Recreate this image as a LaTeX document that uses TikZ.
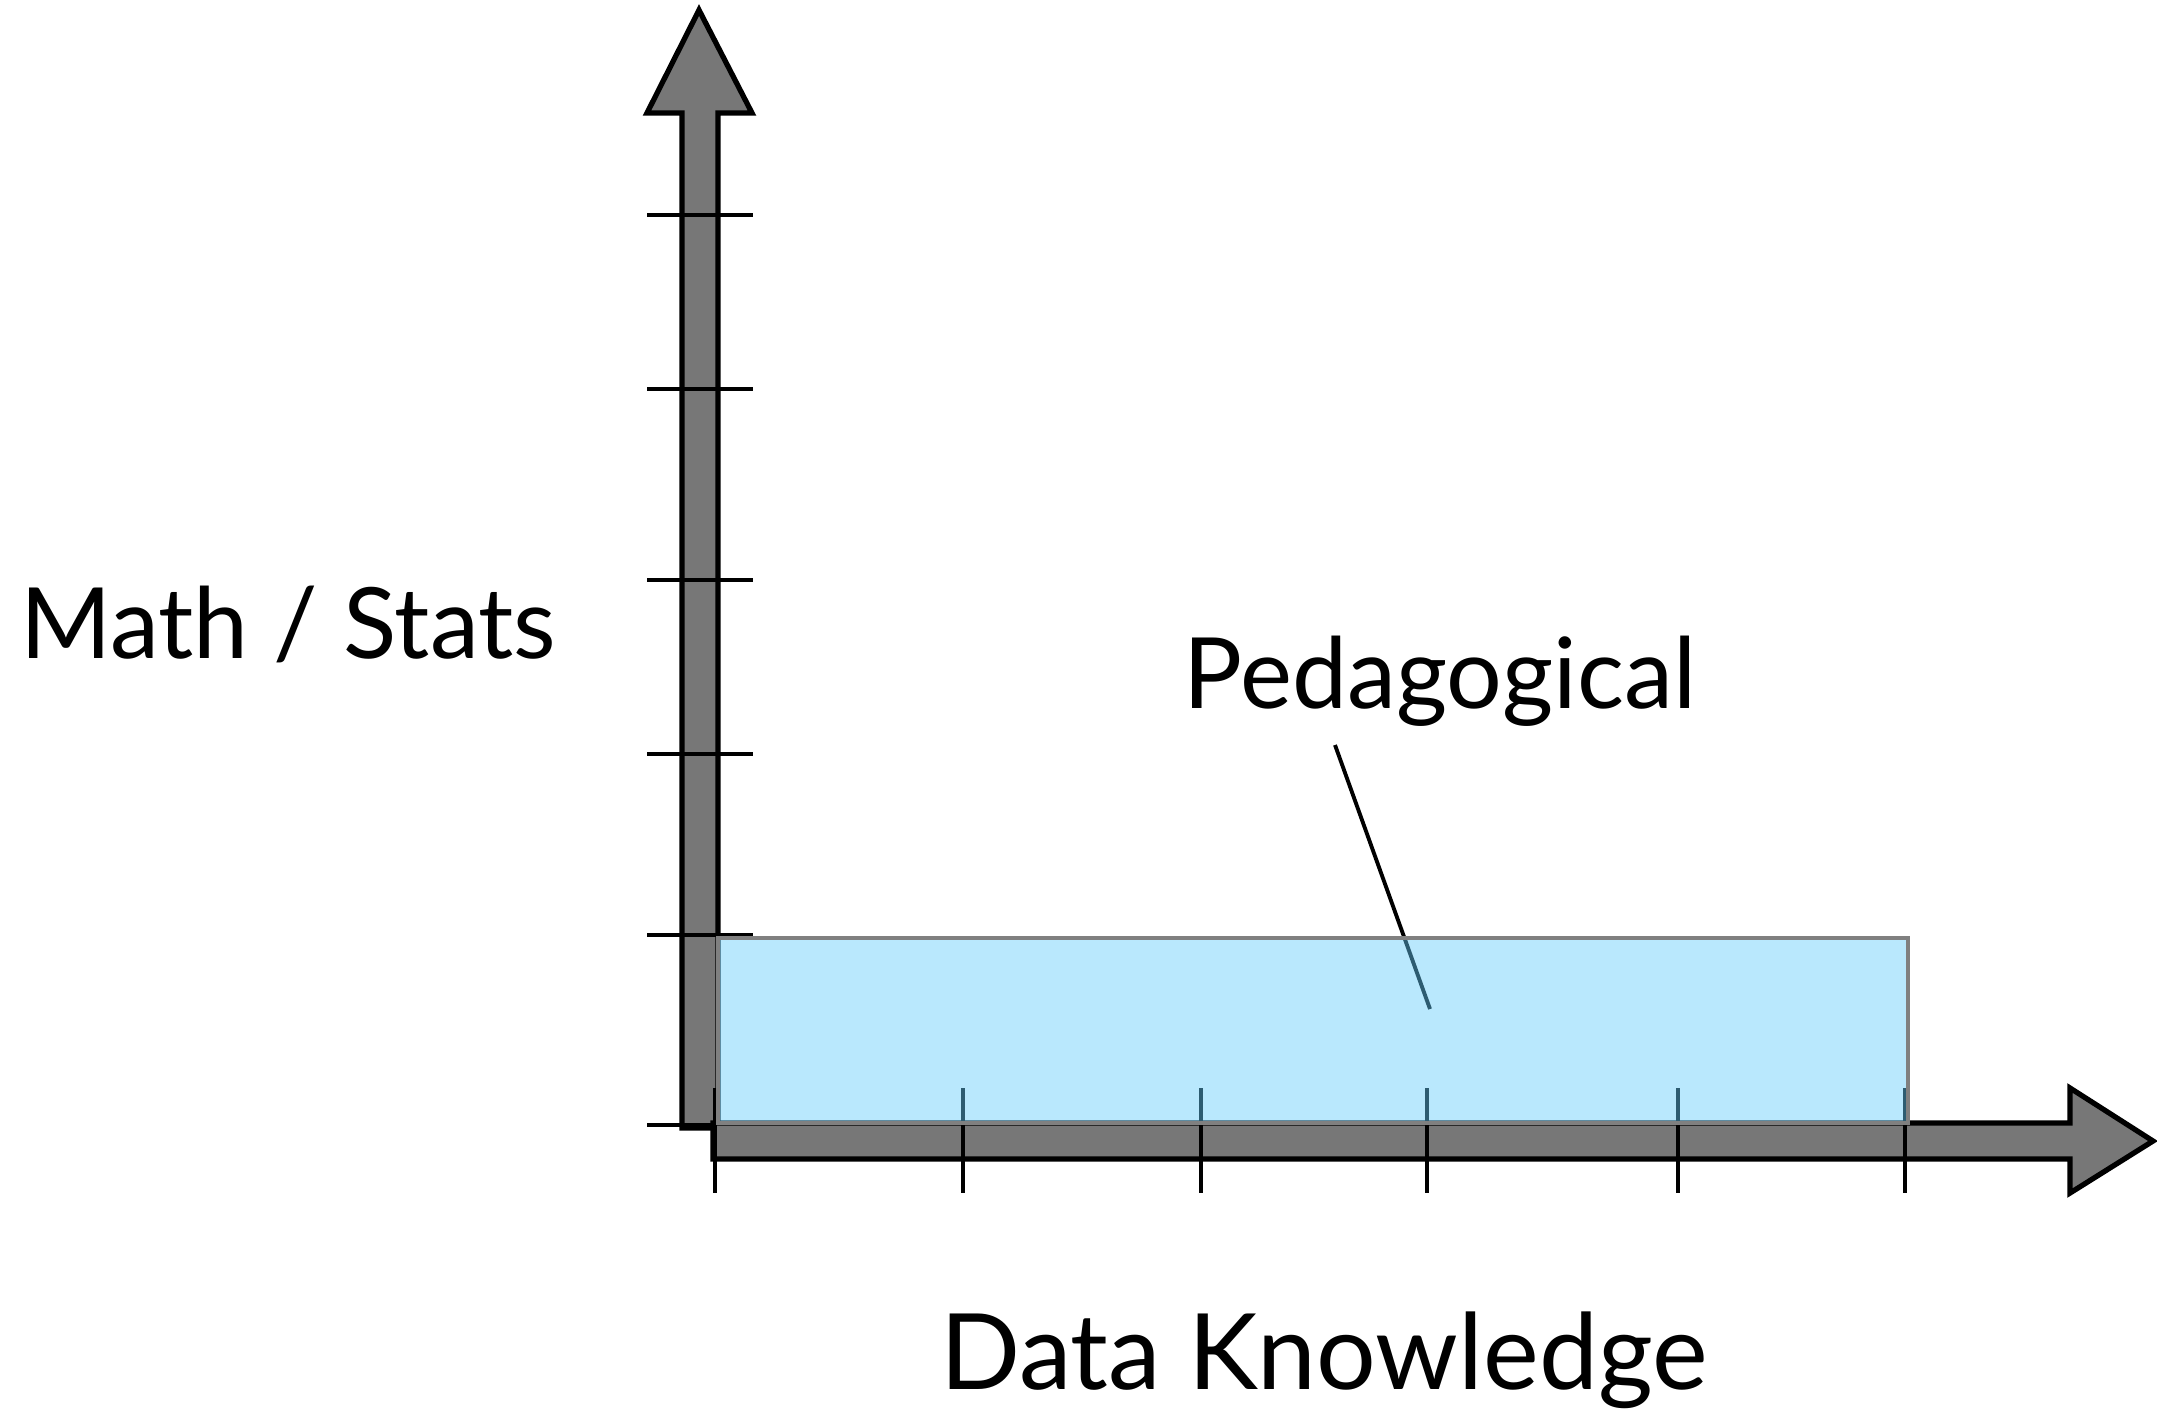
\documentclass[tikz,border=0pt]{standalone}
\usepackage{fontspec}
\setmainfont{Lato}
\usepackage{tikz}
\usetikzlibrary{positioning, calc}
\definecolor{AxisGrey}{HTML}{777777}
\definecolor{BandBlue}{RGB}{100,204,251}
\definecolor{BandEdge}{HTML}{808080}
\tikzset{
  axisarrow/.style={draw=black, fill=AxisGrey, line width=1.5pt, line join=miter},
  tickline/.style={draw=black, line width=1.3pt},
  bandbox/.style={draw=BandEdge, line width=1.4pt, fill=BandBlue, fill opacity=0.45},
  leaderline/.style={draw=black, line width=1.1pt},
  axislabel/.style={font=\fontsize{28}{34}\selectfont, anchor=base, inner sep=0pt}
}

\begin{document}
\begin{tikzpicture}[x=0.1mm, y=-0.1mm]
  \useasboundingbox (0,0) rectangle (2157,1415);

  % vertical axis
  \path[axisarrow] (682,1128) -- (682,113) -- (647,113) -- (699,10) -- (752,113) -- (718,113) -- (718,1128) -- cycle;
  \foreach \ty in {215,389,580,754,935,1125}
    \draw[tickline] (647,\ty) -- (753,\ty);

  % horizontal axis
  \path[axisarrow] (713,1123) -- (2070,1123) -- (2070,1088) -- (2153,1141) -- (2070,1193) -- (2070,1159) -- (713,1159) -- cycle;
  \foreach \tx in {715,963,1201,1427,1678,1905}
    \draw[tickline] (\tx,1088) -- (\tx,1193);

  % labels
  \node[axislabel] (mathstats) at (288,658) {Math / Stats};
  \node[axislabel, font=\fontsize{30}{36}\selectfont] (dataknow) at (1324,1389) {Data Knowledge};
  \node[axislabel] (pedlabel) at (1440,708) {Pedagogical};

  % leader
  \coordinate (leadtop) at (1335,745);
  \coordinate (leadend) at (1430,1009);
  \draw[leaderline] (leadtop) -- (leadend);

  % band
  \path[bandbox] (718,938) rectangle (1908,1123);
\end{tikzpicture}
\end{document}
